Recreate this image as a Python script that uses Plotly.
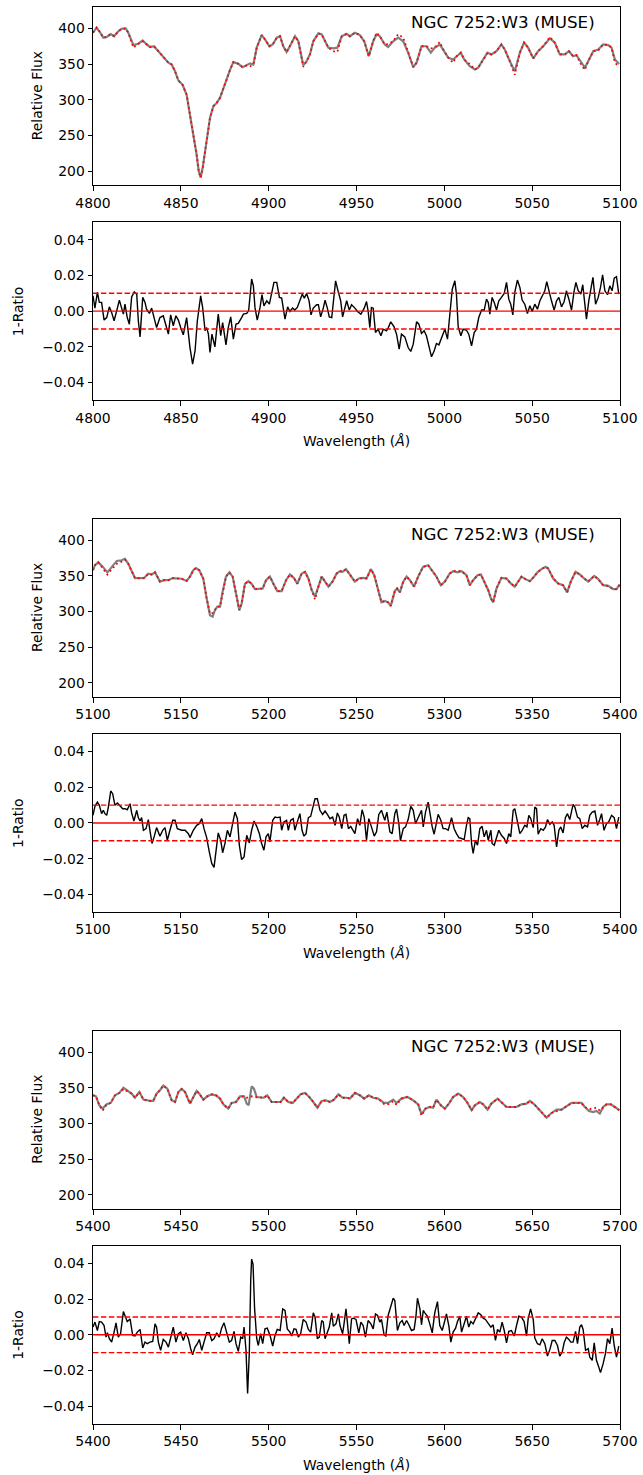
import plotly.graph_objects as go

# ---------------- DATA ----------------
# Panel A (4800-5100): flux spectra
WL_FLUX_A = [
    4800.0, 4802.1, 4803.6, 4805.9, 4807.8, 4810.1, 4812.0, 4814.4, 4816.3, 4818.6,
    4820.1, 4823.0, 4825.8, 4828.3, 4830.6, 4832.4, 4834.7, 4837.2, 4840.0, 4842.9,
    4844.8, 4846.7, 4848.6, 4851.0, 4853.3, 4855.2, 4857.1, 4859.0, 4860.2, 4861.3,
    4862.4, 4863.8, 4865.1, 4866.6, 4868.5, 4870.4, 4872.3, 4874.2, 4876.1, 4878.0,
    4879.9, 4882.7, 4885.2, 4887.5, 4889.4, 4891.3, 4893.2, 4896.0, 4897.9, 4900.4,
    4902.3, 4904.6, 4906.5, 4908.3, 4910.2, 4912.1, 4915.0, 4916.9, 4919.7, 4921.6,
    4923.5, 4925.4, 4928.3, 4930.2, 4932.1, 4934.0, 4936.8, 4939.1, 4941.6, 4944.4,
    4946.3, 4949.1,
    4951.9, 4954.4, 4957.0, 4959.5, 4961.4, 4963.3, 4966.1, 4968.0, 4970.9, 4973.7,
    4976.6, 4979.4, 4982.3, 4984.2, 4987.0, 4989.8, 4992.3, 4994.6, 4997.4, 4999.9,
    5002.2, 5005.0, 5006.9, 5009.4, 5011.3, 5014.5, 5017.4, 5019.3, 5022.1, 5024.6,
    5026.8, 5029.7, 5032.5, 5034.4, 5037.3, 5040.1, 5043.0, 5045.4, 5047.7, 5050.6,
    5053.4, 5056.3, 5060.1, 5062.9, 5065.7, 5068.6, 5070.9, 5073.3, 5075.2, 5078.1,
    5080.0, 5081.9, 5084.8, 5087.6, 5090.4, 5093.3, 5095.2, 5097.1, 5099.5,
]
GREY_FLUX_A = [
    394, 401, 396, 387, 388, 392, 389, 396, 399.5, 400,
    394, 376.6, 378.5, 383, 377.5, 374, 375, 368, 359, 352,
    349.5, 340, 327, 321, 307, 279, 256, 223, 200, 191,
    204, 228, 253.5, 274.6, 291, 295.6, 302.7, 316.7, 328, 342,
    352.7, 350.4, 345.7, 348, 351, 349.5, 373, 390.6, 384.6, 375,
    377.5, 387, 389, 375, 367, 375, 389, 382, 348.5, 354,
    363.5, 382, 393, 391.6, 382, 373, 372, 373, 389, 392.5,
    389, 394,
    390.6, 382, 361, 382, 391.6, 389, 377.5, 374, 382, 387,
    382, 366, 345.7, 352, 375, 375, 366, 373, 377.5, 368,
    359, 356.5, 361, 366, 356.5, 347, 342.4, 345, 356.5, 366,
    363.5, 368, 377.5, 370.5, 354, 340, 366, 380, 373, 358,
    368, 375, 386, 380, 363.5, 363.5, 368, 361, 362.5, 352,
    345, 354, 368, 370.5, 377.5, 376.6, 373, 356.5, 350,
]
RED_FLUX_A = [
    394, 401, 396, 387, 388, 392, 389, 396, 399.5, 400,
    394, 373, 378.5, 382, 377.5, 374, 375, 368, 359, 352,
    349.5, 340, 327, 321, 307, 279, 256, 223, 200, 191,
    204, 228, 253.5, 274.6, 291, 295.6, 302.7, 316.7, 328, 342,
    352.7, 350.4, 345.7, 348, 347, 349.5, 373, 390.6, 384.6, 375,
    377.5, 387, 389, 375, 367, 375, 389, 382, 346, 354,
    363.5, 382, 393, 391.6, 382, 373, 368, 367, 389, 392.5,
    389, 394,
    390.6, 382, 361, 382, 394, 389, 377.5, 378, 382, 392,
    387, 366, 345.7, 352, 375, 375, 372, 373, 381, 368,
    359, 352, 361, 366, 356.5, 350, 342.4, 345, 356.5, 366,
    363.5, 368, 377.5, 370.5, 354, 335, 366, 380, 373, 358,
    368, 375, 388, 380, 363.5, 363.5, 368, 361, 362.5, 348,
    342, 354, 368, 369, 377.5, 376.6, 373, 352, 346,
]

# Panel A: 1-Ratio
WL_RATIO_A = [
    4800.0, 4801.1, 4802.5, 4803.6, 4804.9, 4806.3, 4807.8, 4809.3, 4810.6, 4812.0,
    4813.5, 4815.0, 4816.3, 4817.3, 4818.2, 4819.5, 4820.7, 4822.0, 4823.5, 4824.9,
    4825.8, 4826.8, 4828.3, 4829.6, 4830.5, 4832.1, 4833.4, 4834.7, 4836.2, 4838.1,
    4840.0, 4841.6, 4842.9, 4844.2, 4845.7, 4847.2, 4848.6, 4849.9, 4851.4, 4853.3,
    4855.2, 4856.7, 4858.1, 4859.4, 4861.3, 4862.4, 4863.8, 4864.7, 4865.7, 4866.6,
    4867.7, 4869.4, 4870.4, 4871.3, 4872.7, 4873.8, 4875.7, 4877.0, 4878.4, 4879.9,
    4881.4, 4882.7, 4884.6, 4885.6, 4887.5, 4888.6, 4890.3, 4891.3, 4892.2, 4893.5,
    4895.1, 4896.2, 4897.3, 4898.9, 4900.4, 4901.7, 4903.0, 4904.6, 4906.1, 4907.4,
    4909.3, 4910.8, 4912.1, 4913.6, 4914.9, 4916.3, 4917.8, 4919.1, 4920.3, 4921.6,
    4923.0, 4924.1, 4925.4, 4927.3, 4928.3, 4929.6, 4931.1, 4932.1, 4933.4, 4934.5,
    4935.9, 4936.8, 4938.1, 4939.7, 4941.0, 4942.1, 4943.5, 4944.4, 4945.9, 4947.2,
    4949.1,
    4950.6, 4952.5, 4954.4, 4955.7, 4956.6, 4957.6, 4958.5, 4959.5, 4960.8, 4962.3,
    4963.9, 4965.2, 4967.1, 4968.0, 4969.5, 4971.4, 4972.8, 4974.3, 4975.6, 4977.5,
    4979.4, 4980.9, 4982.3, 4984.2, 4985.5, 4987.0, 4988.5, 4989.8, 4991.2, 4992.7,
    4994.2, 4995.5, 4996.9, 4998.4, 5000.3, 5001.8, 5003.1, 5004.5, 5006.0, 5006.9,
    5007.9, 5009.4, 5010.7, 5012.6, 5013.9, 5015.5, 5017.0, 5018.3, 5019.6, 5021.2,
    5022.7, 5024.0, 5025.0, 5025.9, 5027.2, 5028.4, 5029.7, 5031.0, 5032.5, 5034.1,
    5035.4, 5036.7, 5037.8, 5039.0, 5040.1, 5041.6, 5043.0, 5044.3, 5045.8, 5047.3,
    5048.7, 5050.0, 5051.5, 5053.0, 5054.4, 5055.7, 5057.2, 5058.3, 5059.7, 5061.0,
    5062.5, 5063.9, 5065.2, 5066.7, 5068.2, 5069.5, 5070.9, 5072.4, 5073.9, 5074.9,
    5076.2, 5077.7, 5078.8, 5080.0, 5080.9, 5082.3, 5083.4, 5084.6, 5086.1, 5087.6,
    5088.9, 5090.1, 5091.4, 5092.9, 5094.2, 5095.5, 5096.7, 5098.0, 5099.3,
]
RATIO_A = [
    0.0086, 0.0017, 0.0105, 0.0049, 0.0049, -0.005, -0.0036, 0.0024, -0.0007, -0.0054,
    0.0002, 0.0062, 0.0017, -0.0017, 0.0039, -0.0036, -0.0073, 0.008, 0.0108, 0.0095,
    -0.0054, -0.0144, 0.0077, 0.0049, 0.0011, -0.0013, 0.0017, -0.0036, -0.0092, -0.0036,
    -0.0026, -0.0082, -0.0129, -0.0021, -0.0082, -0.0026, -0.005, -0.0092, -0.0133, -0.0036,
    -0.0204, -0.0297, -0.0223, -0.0054, 0.0086, 0.0021, -0.011, -0.0092, -0.0129, -0.0232,
    -0.0129, -0.02, -0.011, -0.0017, -0.0138, -0.0064, -0.0189, -0.0092, -0.0032, -0.0157,
    -0.0073, -0.0069, -0.0036, -0.0017, -0.0013, 0.0002, 0.018, 0.0142, 0.0021, -0.005,
    0.0021, 0.0092, 0.003, 0.0058, 0.0039, 0.0105, 0.0161, 0.0161, 0.0077, 0.0073,
    -0.0045, 0.0024, -0.0002, 0.0017, 0.0006, 0.0021, 0.0058, 0.0095, 0.0073, 0.0099,
    0.0058, -0.0021, 0.0017, 0.0036, 0.0036, -0.0032, 0.0017, 0.0062, 0.0017, -0.0032,
    -0.0036, 0.0049, 0.017, 0.0105, 0.0058, -0.0032, 0.0021, 0.0058, 0.0006, 0.0036,
    0.0017,
    -0.0002, -0.0017, 0.0017, 0.0054, 0.0002, -0.0092, 0.0021, 0.0017, -0.012, -0.0101,
    -0.0138, -0.0101, -0.011, -0.0095, -0.006, -0.0088, -0.0129, -0.0213, -0.0129, -0.0144,
    -0.0204, -0.0226, -0.0185, -0.006, -0.0073, -0.0125, -0.011, -0.0138, -0.0204, -0.0256,
    -0.0223, -0.0181, -0.0189, -0.0148, -0.0101, -0.0157, 0.0002, 0.0123, 0.017, 0.0095,
    -0.0088, -0.0138, -0.0101, -0.0107, -0.0129, -0.0194, -0.012, -0.0101, -0.0036, 0.0006,
    0.0006, 0.0067, 0.0049, -0.0017, 0.0077, 0.0049, 0.0006, 0.0058, 0.0077, 0.0099,
    0.0161, 0.0067, 0.0039, -0.0021, 0.0105, 0.0174, 0.0133, 0.0062, 0.0039, -0.0013,
    0.003, -0.0002, 0.0039, 0.0011, 0.0058, 0.0086, 0.0114, 0.0165, 0.0105, 0.0058,
    0.0006, 0.0058, 0.0077, 0.0024, 0.0054, 0.0114, 0.0067, 0.0006, 0.0114, 0.0161,
    0.0114, 0.0095, 0.0148, 0.003, -0.0045, 0.0062, 0.0133, 0.0189, 0.0039, 0.0077,
    0.0133, 0.0204, 0.0114, 0.0092, 0.0142, 0.0114, 0.0185, 0.0193, 0.0095,
]

# Panel B (5100-5400): flux spectra
WL_FLUX_B = [
    5100.0, 5101.1, 5103.0, 5105.5, 5108.2, 5110.6, 5113.5, 5116.3, 5118.2, 5120.1,
    5122.0, 5123.9, 5126.8, 5129.0, 5131.5, 5133.4, 5135.3, 5138.1, 5140.4, 5142.9,
    5145.4, 5148.0, 5150.5, 5153.3, 5155.2, 5157.1, 5158.6, 5160.5, 5162.8, 5164.7,
    5166.6, 5168.1, 5169.4, 5170.8, 5172.3, 5173.8, 5175.7, 5177.6, 5179.5, 5181.4,
    5183.3, 5184.6, 5186.5, 5188.4, 5190.3, 5192.2, 5194.1, 5196.6, 5198.5, 5200.7,
    5202.7, 5204.9, 5207.4, 5209.9, 5212.1, 5214.4, 5216.3, 5218.8, 5220.7, 5222.6,
    5224.5, 5226.4, 5228.3, 5230.2, 5232.1, 5234.0, 5236.5, 5238.7, 5240.6, 5242.1,
    5244.0, 5246.3, 5249.1,
    5251.3, 5253.8, 5255.7, 5258.2, 5260.1, 5262.0, 5264.2, 5266.1, 5268.0, 5269.5,
    5271.8, 5273.1, 5274.7, 5276.6, 5278.5, 5280.4, 5282.8, 5285.1, 5287.9, 5290.8,
    5292.7, 5295.5, 5298.0, 5300.3, 5303.1, 5305.0, 5307.5, 5309.8, 5312.6, 5314.5,
    5316.4, 5318.9, 5320.8, 5322.7, 5325.0, 5326.5, 5327.8, 5329.7, 5332.5, 5335.4,
    5337.8, 5340.1, 5342.0, 5343.9, 5346.2, 5348.7, 5351.1, 5353.0, 5355.3, 5357.6,
    5359.1, 5362.0, 5364.8, 5367.6, 5369.9, 5372.0, 5374.7, 5377.1, 5379.6, 5381.9,
    5385.3, 5387.6, 5390.4, 5393.3, 5396.1, 5398.0, 5399.9,
]
GREY_FLUX_B = [
    358, 365, 369, 363, 355, 363, 371, 372, 374, 367,
    356, 347, 347, 347, 353, 352, 355, 342, 344, 344,
    347, 346, 346, 343, 349, 358, 361, 358, 346, 318.5,
    295, 293, 302, 307, 307, 328, 349, 355, 349, 325.5,
    302, 311, 339, 342.6, 339, 331.5, 331.5, 332.4, 344, 349,
    339, 328.7, 328.7, 344, 352, 347, 339, 353.4, 355.7, 346.4,
    330, 321, 335, 349, 342, 335, 342.6, 353.4, 356.7, 355.7,
    359.5, 351, 342,
    346.4, 347.3, 346.4, 359.5, 351, 332.4, 313, 315, 313, 308,
    328.7, 332.4, 327, 342, 349, 344, 335, 349, 362.7, 365,
    358, 349, 337, 342, 353.4, 356.7, 355, 356.7, 351, 337,
    344, 351, 352, 342, 330, 318.5, 313, 332.4, 347.3, 346.4,
    339.4, 335, 342, 349, 345.5, 342.7, 349, 355, 359.5, 362.7,
    360.4, 346.4, 339.4, 337, 327, 342, 355.7, 352, 346.4, 342,
    350, 345.5, 337, 336, 331.5, 331.5, 338,
]
RED_FLUX_B = [
    358, 365, 369, 360, 352, 359, 367, 370, 372.5, 367,
    356, 347, 347, 347, 353, 352, 355, 342, 344, 344,
    347, 346, 346, 343, 349, 358, 361, 358, 346, 318.5,
    297, 298, 302, 307, 307, 328, 349, 355, 349, 325.5,
    302, 311, 339, 342.6, 339, 331.5, 331.5, 332.4, 344, 349,
    339, 328.7, 328.7, 344, 352, 347, 339, 353.4, 355.7, 346.4,
    330, 317, 335, 349, 342, 335, 342.6, 353.4, 356.7, 355.7,
    359.5, 351, 342,
    346.4, 347.3, 346.4, 359.5, 351, 332.4, 313, 315, 313, 308,
    328.7, 332.4, 327, 342, 349, 344, 335, 349, 362.7, 365,
    358, 349, 337, 342, 353.4, 356.7, 357, 356.7, 351, 337,
    344, 351, 352, 342, 330, 318.5, 313, 332.4, 347.3, 346.4,
    339.4, 335, 342, 349, 345.5, 342.7, 349, 355, 359.5, 362.7,
    360.4, 346.4, 339.4, 337, 327, 342, 355.7, 352, 346.4, 342,
    350, 345.5, 337, 336, 331.5, 331.5, 338,
]

# Panel B: 1-Ratio
WL_RATIO_B = [
    5100.0, 5101.1, 5102.5, 5103.6, 5104.9, 5105.9, 5106.8, 5107.8, 5108.7, 5110.1,
    5111.2, 5112.5, 5113.9, 5115.4, 5116.9, 5118.2, 5119.5, 5121.1, 5122.0, 5123.3,
    5124.9, 5125.8, 5126.8, 5127.7, 5128.7, 5130.2, 5131.5, 5132.4, 5133.6, 5134.9,
    5136.2, 5138.1, 5139.7, 5141.0, 5142.3, 5143.8, 5145.4, 5146.7, 5148.0, 5150.5,
    5152.4, 5154.3, 5155.2, 5157.1, 5159.0, 5160.5, 5161.9, 5163.2, 5164.7, 5166.2,
    5167.6, 5168.9, 5170.0, 5171.3, 5172.7, 5173.8, 5175.1, 5176.5, 5178.0, 5179.5,
    5180.8, 5182.2, 5183.3, 5184.6, 5186.0, 5187.5, 5189.0, 5190.3, 5191.7, 5193.2,
    5194.7, 5196.0, 5197.3, 5198.5, 5199.8, 5200.7, 5202.3, 5203.6, 5204.9, 5206.5,
    5207.4, 5208.7, 5210.2, 5211.2, 5212.5, 5214.0, 5214.9, 5216.3, 5217.8, 5219.0,
    5220.1, 5221.3, 5222.6, 5223.9, 5225.0, 5226.4, 5227.7, 5229.2, 5230.7, 5232.1,
    5233.4, 5234.9, 5236.4, 5237.8, 5239.1, 5240.2, 5241.6, 5242.9, 5244.0, 5245.4,
    5246.7, 5247.8, 5249.1,
    5250.6, 5251.9, 5253.2, 5254.4, 5255.7, 5257.0, 5258.5, 5260.1, 5261.4, 5262.7,
    5264.2, 5266.1, 5267.3, 5269.0, 5270.3, 5271.8, 5272.8, 5274.1, 5275.0, 5276.6,
    5277.9, 5279.4, 5280.9, 5282.3, 5283.6, 5284.7, 5286.1, 5287.0, 5288.0, 5289.3,
    5290.8, 5291.7, 5293.1, 5294.2, 5295.5, 5296.5, 5298.0, 5299.3, 5300.7, 5302.2,
    5304.1, 5305.6, 5306.9, 5308.3, 5309.8, 5311.3, 5312.6, 5313.6, 5314.5, 5315.5,
    5316.4, 5317.7, 5318.9, 5320.2, 5321.5, 5322.7, 5324.0, 5325.0, 5326.5, 5327.2,
    5328.4, 5329.7, 5331.0, 5332.5, 5334.1, 5335.4, 5336.7, 5337.8, 5339.2, 5340.1,
    5341.6, 5343.0, 5344.3, 5345.8, 5347.0, 5348.1, 5349.2, 5350.6, 5351.5, 5352.5,
    5353.4, 5354.9, 5356.3, 5357.6, 5358.7, 5360.1, 5361.4, 5362.5, 5363.9, 5365.2,
    5366.3, 5367.6, 5368.9, 5370.1, 5371.4, 5372.4, 5373.3, 5374.3, 5375.8, 5377.1,
    5378.5, 5380.0, 5381.5, 5382.8, 5384.2, 5385.7, 5387.2, 5388.5, 5389.5, 5390.9,
    5392.3, 5393.6, 5395.2, 5396.7, 5398.0, 5399.3,
]
RATIO_B = [
    0.0043, 0.0093, 0.0117, 0.0099, 0.0052, 0.0071, 0.0052, 0.0043, 0.0086, 0.0179,
    0.0164, 0.0099, 0.0112, 0.0093, 0.008, 0.008, 0.0074, 0.0108, 0.0056, 0.0011,
    0.0071, 0.003, 0.0011, 0.003, -0.0041, -0.0032, 0.0019, -0.0041, -0.0115, -0.0074,
    -0.0026, -0.0074, -0.0041, -0.0026, -0.0097, -0.0041, 0.0015, 0.0015, -0.0032, -0.0041,
    -0.0041, -0.006, -0.0082, -0.0041, -0.0013, -0.0004, 0.0024, -0.0032, -0.0082, -0.0162,
    -0.0227, -0.0249, -0.0171, -0.0056, -0.0097, -0.0167, -0.0115, -0.0041, -0.0078, 0.0006,
    0.0061, 0.0024, -0.0125, -0.0205, -0.019, -0.0069, -0.0112, -0.0041, 0.0011, -0.0019,
    -0.006, -0.0115, -0.0153, -0.0078, -0.006, -0.0106, 0.0015, 0.0033, 0.003, 0.0033,
    -0.0041, 0.0006, 0.0015, -0.0041, 0.0015, 0.0024, -0.0041, 0.0006, 0.0052, -0.0041,
    -0.0074, -0.006, 0.003, 0.0037, 0.008, 0.0136, 0.0136, 0.0071, 0.0048, 0.0067,
    0.0048, 0.0024, 0.0033, -0.0013, 0.0056, 0.0033, -0.0032, 0.0043, 0.0048, -0.0032,
    -0.0019, -0.0041, -0.006,
    0.0024, -0.0013, 0.0074, 0.0033, -0.0097, 0.0024, -0.0022, -0.0074, -0.005, 0.0048,
    0.0071, 0.0015, 0.0061, -0.005, -0.006, 0.0052, 0.0078, -0.0004, -0.01, -0.0032,
    -0.0022, 0.0019, 0.0093, 0.0071, -0.0004, 0.0019, 0.0052, 0.0071, -0.0022, 0.0061,
    0.0117, 0.0061, -0.0022, -0.0063, -0.0004, 0.0048, 0.0015, -0.0032, -0.0032, -0.0041,
    0.003, -0.0032, -0.006, -0.0082, -0.0087, -0.0093, -0.0013, 0.003, 0.0024, -0.0115,
    -0.0171, -0.0097, -0.0125, -0.0032, -0.0019, -0.0078, -0.0041, -0.0097, -0.0041, -0.0115,
    -0.0125, -0.0082, -0.0041, -0.0069, -0.0087, -0.0115, -0.006, -0.0078, 0.0071, 0.008,
    0.0011, -0.006, -0.0041, -0.0013, -0.0022, 0.0043, 0.0024, -0.0026, 0.0089, 0.008,
    -0.0063, -0.0032, -0.0041, -0.0022, 0.0019, -0.0007, 0.0006, -0.0013, -0.0134, -0.0041,
    -0.0022, -0.0056, 0.003, 0.0052, 0.0019, 0.0074, 0.0104, 0.0089, 0.0033, 0.0024,
    -0.0032, -0.0013, -0.0022, 0.0043, 0.0061, 0.0067, -0.0013, 0.0019, 0.0052, -0.0041,
    -0.0004, 0.0006, 0.0043, 0.003, -0.0032, 0.0033,
]

# Panel C (5400-5700): flux spectra
WL_FLUX_C = [
    5400.0, 5401.7, 5403.6, 5405.5, 5407.8, 5410.1, 5412.5, 5415.0, 5417.3, 5419.5,
    5422.0, 5423.9, 5426.4, 5428.7, 5430.5, 5432.4, 5434.3, 5436.2, 5438.1, 5440.0,
    5442.3, 5444.8, 5446.7, 5448.6, 5450.5, 5452.4, 5455.2, 5457.1, 5459.0, 5460.5,
    5462.8, 5465.1, 5467.6, 5470.0, 5472.3, 5474.2, 5477.0, 5478.9, 5481.4, 5483.7,
    5486.0, 5487.5, 5488.6, 5490.3, 5491.6, 5493.2, 5495.4, 5497.3, 5499.2, 5501.7,
    5504.2, 5506.8, 5508.7, 5511.2, 5513.7, 5515.9, 5518.2, 5520.7, 5523.1, 5525.4,
    5527.7, 5530.2, 5532.6, 5534.9, 5537.2, 5539.7, 5542.1, 5544.4, 5546.3, 5549.1,
    5551.9, 5554.4, 5557.0, 5559.5, 5562.3, 5565.7, 5568.0, 5570.9, 5572.8, 5575.6,
    5579.0, 5582.3, 5585.1, 5587.0, 5589.3, 5591.7, 5593.6, 5595.5, 5598.0, 5600.3,
    5602.6, 5605.0, 5607.9, 5610.7, 5613.2, 5615.5, 5617.4, 5620.2, 5622.1, 5624.6,
    5626.8, 5630.3, 5632.5, 5635.4, 5638.2, 5641.1, 5643.9, 5646.8, 5648.7, 5651.2,
    5653.4, 5655.3, 5658.2, 5661.0, 5663.9, 5666.7, 5669.6, 5672.4, 5675.2, 5678.1,
    5680.0, 5682.3, 5684.8, 5686.6, 5688.5, 5690.4, 5692.3, 5694.8, 5697.1, 5699.6,
]
GREY_FLUX_C = [
    339.4, 338, 325.4, 320.8, 326.8, 328.7, 339.4, 342.7, 350, 345.5,
    341.7, 336, 344, 333.4, 332.4, 331.5, 331.5, 341.7, 346.4, 353,
    348.7, 332.4, 330, 344, 348.3, 344, 327.8, 337, 345.5, 341.7,
    333.4, 338, 340.8, 339.4, 334.8, 326.8, 320.8, 328.7, 330, 338,
    338, 327.8, 325.4, 352, 348.7, 337, 336, 336, 339.4, 330,
    330, 330, 336, 330, 328.7, 334.8, 340.8, 342.7, 337, 330,
    322, 331.5, 332.4, 330, 333.4, 340.8, 336, 336, 334.8, 342.7,
    339.4, 334.8, 339.4, 336, 334.8, 328.7, 328.7, 333.4, 328.7, 334.8,
    337, 332.4, 326.8, 312.9, 320.8, 323, 322, 333.4, 325.4, 320.8,
    327.8, 337, 341.7, 337, 328.7, 318.5, 325.4, 330, 326.8, 319.4,
    327.8, 334.8, 330, 323, 323, 323, 326.8, 327.8, 331.5, 326.8,
    320.8, 316, 308, 314.6, 319.4, 319.4, 324, 328.7, 328.7, 328.7,
    323, 317.5, 316, 317.5, 313.8, 323, 326.8, 326.8, 323, 318.5,
]
RED_FLUX_C = [
    339.4, 338, 325.4, 318, 326.8, 328.7, 339.4, 342.7, 348, 345.5,
    341.7, 336, 344, 333.4, 332.4, 331.5, 331.5, 341.7, 346.4, 353,
    348.7, 332.4, 330, 344, 348.3, 344, 327.8, 337, 345.5, 341.7,
    333.4, 338, 340.8, 339.4, 334.8, 326.8, 320.8, 328.7, 330, 338,
    338, 336, 337, 338, 337, 337, 336, 336, 339.4, 330,
    330, 330, 336, 330, 328.7, 334.8, 340.8, 342.7, 337, 330,
    322, 331.5, 332.4, 330, 333.4, 340.8, 336, 336, 334.8, 342.7,
    339.4, 334.8, 339.4, 336, 334.8, 327, 326.8, 331, 326, 334.8,
    337, 332.4, 326.8, 311, 320.8, 323, 322, 333.4, 325.4, 320.8,
    327.8, 337, 341.7, 337, 328.7, 318.5, 325.4, 330, 326.8, 319.4,
    327.8, 334.8, 330, 323, 323, 323, 326.8, 327.8, 331.5, 326.8,
    320.8, 316, 308, 314.6, 317, 319.4, 324, 328.7, 328.7, 328.7,
    323, 320, 321, 322, 318, 323, 326.8, 326.8, 323, 318.5,
]

# Panel C: 1-Ratio
WL_RATIO_C = [
    5400.0, 5401.1, 5402.5, 5403.6, 5404.9, 5406.3, 5407.4, 5408.2, 5409.3, 5410.6,
    5412.0, 5413.1, 5414.4, 5415.7, 5417.3, 5418.2, 5419.5, 5421.1, 5422.6, 5423.9,
    5425.2, 5426.8, 5428.3, 5429.6, 5430.9, 5432.4, 5434.0, 5435.3, 5436.2, 5437.2,
    5438.5, 5440.0, 5441.6, 5442.9, 5444.2, 5445.7, 5447.2, 5448.6, 5449.9, 5451.4,
    5452.9, 5454.3, 5455.6, 5456.7, 5458.1, 5459.4, 5460.5, 5461.9, 5463.2, 5464.7,
    5466.2, 5467.6, 5468.9, 5470.4, 5471.9, 5473.2, 5474.6, 5476.1, 5477.6, 5478.9,
    5480.3, 5481.4, 5482.7, 5484.1, 5485.2, 5486.0, 5487.1, 5488.0, 5489.0, 5489.8,
    5490.3, 5491.1, 5492.0, 5493.2, 5494.1, 5495.4, 5496.6, 5497.9, 5499.2, 5500.8,
    5502.3, 5503.6, 5504.9, 5506.5, 5508.0, 5509.3, 5510.6, 5512.1, 5513.1, 5514.4,
    5515.6, 5516.9, 5518.2, 5519.7, 5521.3, 5522.6, 5523.9, 5525.4, 5526.4, 5527.7,
    5528.8, 5530.2, 5531.1, 5532.1, 5533.4, 5534.5, 5535.9, 5536.8, 5538.3, 5539.7,
    5540.6, 5542.1, 5542.9, 5544.0, 5544.8, 5545.9, 5547.2, 5548.2, 5549.7,
    5551.3, 5552.5, 5553.8, 5555.1, 5556.6, 5558.2, 5559.5, 5560.8, 5562.0, 5563.3,
    5564.2, 5565.7, 5566.7, 5568.0, 5569.5, 5570.9, 5571.8, 5573.3, 5574.7, 5576.0,
    5577.1, 5578.5, 5579.8, 5581.3, 5582.8, 5583.8, 5584.7, 5586.1, 5587.0, 5588.0,
    5588.9, 5590.4, 5591.7, 5593.1, 5594.6, 5596.1, 5597.4, 5598.8, 5600.3, 5601.2,
    5602.6, 5603.7, 5605.0, 5606.4, 5607.5, 5608.8, 5609.8, 5611.3, 5612.6, 5613.9,
    5615.1, 5616.4, 5617.7, 5619.3, 5620.8, 5622.1, 5623.4, 5625.0, 5626.5, 5627.8,
    5629.1, 5630.3, 5631.6, 5632.9, 5634.1, 5635.4, 5636.7, 5638.2, 5639.8, 5641.1,
    5642.4, 5643.9, 5645.4, 5646.8, 5647.7, 5649.1, 5650.6, 5651.5, 5653.0, 5654.4,
    5655.7, 5657.2, 5658.7, 5660.1, 5661.4, 5662.9, 5664.4, 5665.7, 5667.1, 5668.2,
    5669.5, 5670.9, 5672.0, 5673.3, 5674.7, 5675.8, 5677.1, 5678.1, 5679.0, 5680.4,
    5681.9, 5682.8, 5684.2, 5685.3, 5686.6, 5687.9, 5688.9, 5690.4, 5691.7, 5692.9,
    5694.2, 5695.5, 5696.7, 5698.0, 5699.3,
]
RATIO_C = [
    0.0043, 0.0071, 0.0024, 0.0074, 0.0071, 0.0052, -0.0013, 0.0011, -0.0022, -0.0041,
    0.0015, 0.0067, -0.0013, 0.0006, 0.013, 0.0104, 0.0074, 0.0089, -0.0004, -0.0007,
    0.0015, 0.003, -0.0074, -0.0041, -0.005, -0.0041, -0.0037, 0.0061, 0.0043, -0.0041,
    -0.0087, -0.0026, -0.0041, -0.0069, -0.0013, 0.0043, -0.0041, 0.0006, 0.0015, -0.0032,
    0.0011, -0.0022, -0.0078, -0.0112, -0.0069, -0.005, -0.0026, -0.0087, -0.0041, 0.0011,
    0.0011, -0.0032, -0.0022, 0.0011, -0.0013, 0.0037, 0.0067, 0.0006, -0.0041, -0.0032,
    0.0019, -0.005, -0.0093, -0.0013, -0.0022, 0.0043, -0.0087, -0.0329, -0.0097, 0.0312,
    0.0424, 0.0396, 0.0145, -0.0022, -0.006, 0.0006, -0.005, 0.0033, 0.0037, -0.0004,
    -0.0063, -0.0004, 0.003, 0.0024, 0.0145, 0.0136, 0.0033, 0.0015, -0.0007, 0.0033,
    0.003, -0.0013, 0.0006, 0.0086, 0.0071, 0.003, 0.0015, 0.0123, 0.0099, -0.0022,
    -0.0013, 0.008, 0.0071, -0.0022, 0.0019, 0.0043, 0.0123, 0.0048, 0.0061, 0.0117,
    0.0052, 0.0006, 0.0061, 0.0145, 0.0071, -0.005, 0.0089, 0.0093, 0.0086,
    0.0011, 0.0071, 0.0052, -0.0013, 0.008, 0.0061, 0.0033, 0.0117, 0.0108, 0.0071,
    0.0086, 0.0, -0.0007, 0.0108, 0.0154, 0.0205, 0.0192, 0.0024, 0.0067, 0.008,
    0.0052, 0.008, 0.0056, 0.0024, 0.003, 0.0099, 0.0205, 0.0145, 0.0056, 0.0136,
    0.0123, 0.0104, 0.0061, 0.0011, 0.0126, 0.0186, 0.0052, 0.0024, 0.008, 0.0117,
    0.0048, -0.0041, 0.0015, 0.0037, 0.0074, 0.0104, 0.0015, 0.0071, 0.0104, 0.0043,
    0.0074, 0.0061, 0.0086, 0.0123, 0.0112, 0.0093, 0.0086, 0.0067, 0.0043, 0.0056,
    -0.0032, 0.003, 0.0015, 0.0071, 0.0024, -0.0045, 0.0019, 0.0024, -0.0007, 0.0052,
    0.0104, 0.0099, 0.0074, -0.0007, 0.0089, 0.0145, 0.0086, -0.0019, -0.005, -0.0056,
    -0.0022, -0.005, -0.0119, -0.0082, -0.0032, -0.0032, -0.006, -0.0119, -0.0097, -0.0045,
    -0.0013, -0.0026, -0.0041, -0.0041, 0.0019, -0.005, 0.0043, 0.0056, 0.003, -0.0087,
    -0.0078, -0.0125, -0.0143, -0.0045, -0.0143, -0.018, -0.0212, -0.0162, -0.0106, -0.0022,
    -0.005, 0.0037, -0.006, -0.0125, -0.0063,
]

X_RANGES = [[4800, 5100], [5100, 5400], [5400, 5700]]
X_TICKS = [[4800, 4850, 4900, 4950, 5000, 5050, 5100],
           [5100, 5150, 5200, 5250, 5300, 5350, 5400],
           [5400, 5450, 5500, 5550, 5600, 5650, 5700]]
FLUX_RANGE = [180, 430]
FLUX_TICKS = [200, 250, 300, 350, 400]
RATIO_RANGE = [-0.05, 0.05]
RATIO_TICKS = [-0.04, -0.02, 0.0, 0.02, 0.04]
RATIO_REF_SOLID = [0.0]
RATIO_REF_DASHED = [0.01, -0.01]
OBJECT_LABEL = "NGC 7252:W3 (MUSE)"

FLUX_SETS = [(WL_FLUX_A, GREY_FLUX_A, RED_FLUX_A),
             (WL_FLUX_B, GREY_FLUX_B, RED_FLUX_B),
             (WL_FLUX_C, GREY_FLUX_C, RED_FLUX_C)]
RATIO_SETS = [(WL_RATIO_A, RATIO_A), (WL_RATIO_B, RATIO_B), (WL_RATIO_C, RATIO_C)]

for w, g, r in FLUX_SETS:
    assert len(w) == len(g) == len(r), (len(w), len(g), len(r))
for w, v in RATIO_SETS:
    assert len(w) == len(v), (len(w), len(v))

# ---------------- LAYOUT (pixel geometry) ----------------
W, H = 643, 1475
LEFT_PX, RIGHT_PX = 93, 620
TOP_PX, BOTTOM_PX = 7, 1424.5
PANEL_TOPS = [7, 222, 519, 734, 1031, 1246]
PANEL_H = 178.5
PW = RIGHT_PX - LEFT_PX
PH = BOTTOM_PX - TOP_PX
FONT = "DejaVu Sans"
TICK_SIZE = 13.9
LABEL_SIZE = 13.9


def px_to_paper_x(px):
    return (px - LEFT_PX) / PW


def px_to_paper_y(py):
    return (BOTTOM_PX - py) / PH


def ydom(top):
    return [px_to_paper_y(top + PANEL_H), px_to_paper_y(top)]


fig = go.Figure()
layout = dict(
    width=W, height=H,
    margin=dict(l=LEFT_PX, r=W - RIGHT_PX, t=TOP_PX, b=H - BOTTOM_PX, pad=0, autoexpand=False),
    paper_bgcolor="white", plot_bgcolor="white",
    showlegend=False,
    font=dict(family=FONT, size=TICK_SIZE, color="black"),
)
shapes = []
annotations = []


def axis_common():
    return dict(showline=True, linecolor="black", linewidth=1, mirror=True,
                ticks="outside", ticklen=4.5, tickwidth=1, tickcolor="black",
                showgrid=False, zeroline=False, automargin=False,
                tickfont=dict(family=FONT, size=TICK_SIZE, color="black"))


for i in range(3):
    fa = 2 * i + 1
    ra = 2 * i + 2
    xf = "x" if fa == 1 else f"x{fa}"
    yf = "y" if fa == 1 else f"y{fa}"
    xr = f"x{ra}"
    yr = f"y{ra}"
    wl, grey, red = FLUX_SETS[i]
    fig.add_trace(go.Scatter(x=wl, y=grey, mode="lines", xaxis=xf, yaxis=yf,
                             line=dict(color="#808080", width=2.2)))
    fig.add_trace(go.Scatter(x=wl, y=red, mode="lines", xaxis=xf, yaxis=yf,
                             line=dict(color="red", width=1.8, dash="1.8px,3px")))
    rw, rv = RATIO_SETS[i]
    fig.add_trace(go.Scatter(x=rw, y=rv, mode="lines", xaxis=xr, yaxis=yr,
                             line=dict(color="black", width=1.4)))

    xdom = [0, 1]
    kf = "xaxis" if fa == 1 else f"xaxis{fa}"
    kyf = "yaxis" if fa == 1 else f"yaxis{fa}"
    layout[kf] = dict(domain=xdom, range=X_RANGES[i], tickvals=X_TICKS[i],
                      anchor=yf, **axis_common())
    layout[kyf] = dict(domain=ydom(PANEL_TOPS[2 * i]), range=FLUX_RANGE,
                       tickvals=FLUX_TICKS, anchor=xf, **axis_common())
    layout[f"xaxis{ra}"] = dict(domain=xdom, range=X_RANGES[i], tickvals=X_TICKS[i],
                                anchor=yr, **axis_common())
    layout[f"yaxis{ra}"] = dict(domain=ydom(PANEL_TOPS[2 * i + 1]), range=RATIO_RANGE,
                                tickvals=RATIO_TICKS, tickformat=".2f",
                                anchor=xr, **axis_common())

    for lv in RATIO_REF_SOLID:
        shapes.append(dict(type="line", xref=f"{xr} domain", yref=yr, x0=0, x1=1,
                           y0=lv, y1=lv, line=dict(color="red", width=1.4)))
    for lv in RATIO_REF_DASHED:
        shapes.append(dict(type="line", xref=f"{xr} domain", yref=yr, x0=0, x1=1,
                           y0=lv, y1=lv, line=dict(color="red", width=1.4, dash="5.5px,2.4px")))

    ftop = PANEL_TOPS[2 * i]
    rtop = PANEL_TOPS[2 * i + 1]
    annotations.append(dict(text=OBJECT_LABEL, xref="paper", yref="paper",
                            x=px_to_paper_x(LEFT_PX + 0.6 * PW), y=px_to_paper_y(ftop + 15.5),
                            xanchor="left", yanchor="middle",
                            showarrow=False, font=dict(family=FONT, size=16.7, color="black")))
    annotations.append(dict(text="Relative Flux", xref="paper", yref="paper",
                            x=px_to_paper_x(37), y=px_to_paper_y(ftop + PANEL_H / 2), textangle=-90,
                            xanchor="center", yanchor="middle", showarrow=False,
                            font=dict(family=FONT, size=LABEL_SIZE, color="black")))
    annotations.append(dict(text="1-Ratio", xref="paper", yref="paper",
                            x=px_to_paper_x(18), y=px_to_paper_y(rtop + PANEL_H / 2), textangle=-90,
                            xanchor="center", yanchor="middle", showarrow=False,
                            font=dict(family=FONT, size=LABEL_SIZE, color="black")))
    annotations.append(dict(text="Wavelength (<i>Å</i>)", xref="paper", yref="paper",
                            x=0.5, y=px_to_paper_y(rtop + PANEL_H + 41),
                            xanchor="center", yanchor="middle", showarrow=False,
                            font=dict(family=FONT, size=LABEL_SIZE, color="black")))

layout["shapes"] = shapes
layout["annotations"] = annotations
fig.update_layout(**layout)
fig.write_html("out.html")
